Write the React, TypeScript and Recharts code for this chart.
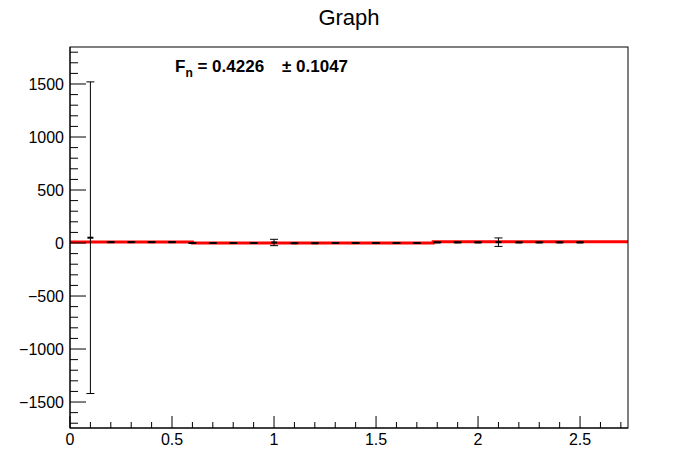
import React from 'react';
import {
  ComposedChart,
  Scatter,
  Line,
  XAxis,
  YAxis,
  ErrorBar,
} from 'recharts';

const xValues = [0.1, 0.2, 0.3, 0.4, 0.5, 0.6, 0.7, 0.8, 0.9, 1.0, 1.1, 1.2, 1.3, 1.4, 1.5, 1.6, 1.7, 1.8, 1.9, 2.0, 2.1, 2.2, 2.3, 2.4, 2.5];
const yValues = [50, 8, 8, 8, 8, 0, 0, 0, 0, 5, -2, -2, 0, 0, 0, 0, 0, 6, 6, 6, 8, 6, 6, 6, 6];
const yErrors = [1470, 3, 3, 3, 3, 3, 3, 3, 3, 30, 3, 3, 3, 3, 3, 3, 3, 3, 3, 3, 40, 3, 3, 3, 3];

const fitX = [0, 0.6, 0.6, 1.78, 1.78, 2.735];
const fitY = [10, 10, 0, 0, 12, 12];

const xMajor = [0, 0.5, 1, 1.5, 2, 2.5];
const yMajor = [-1500, -1000, -500, 0, 500, 1000, 1500];

const points = xValues.map((x, i) => ({ x, y: yValues[i], err: yErrors[i] }));
const fit = fitX.map((x, i) => ({ x, f: fitY[i] }));

const xTicks: number[] = [];
for (let i = 0; i <= 27; i++) xTicks.push(Math.round(i * 10) / 100);
const yTicks: number[] = [];
for (let v = -1700; v <= 1800; v += 100) yTicks.push(v);

const font = '"Liberation Sans", Arial, sans-serif';
const fmt = (v: number) => (v < 0 ? '\u2212' + Math.abs(v) : String(v));

const XTick = (props: any) => {
  const { x, payload } = props;
  const v = payload.value;
  const major = xMajor.some((m) => Math.abs(m - v) < 1e-6);
  return (
    <g>
      <line x1={x} x2={x} y1={428} y2={major ? 416 : 422} stroke="#000" />
      {major && (
        <text x={x} y={445} textAnchor="middle" fontSize={16} fontFamily={font} fill="#000">
          {v}
        </text>
      )}
    </g>
  );
};

const YTick = (props: any) => {
  const { y, payload } = props;
  const v = payload.value;
  const major = yMajor.includes(v);
  return (
    <g>
      <line x1={70} x2={major ? 86 : 78} y1={y} y2={y} stroke="#000" />
      {major && (
        <text x={64} y={y + 6} textAnchor="end" fontSize={16} fontFamily={font} fill="#000">
          {fmt(v)}
        </text>
      )}
    </g>
  );
};

const Marker = (props: any) => {
  const { cx, cy } = props;
  return <rect x={cx - 3} y={cy - 1} width={6} height={2} fill="#000" />;
};

export default function App() {
  return (
    <div style={{ position: 'absolute', left: 0, top: 0, width: 698, height: 476, background: '#fff' }}>
      <ComposedChart
        width={698}
        height={476}
        margin={{ top: 47, right: 70, bottom: 18, left: 0 }}
        style={{ position: 'absolute', left: 0, top: 0 }}
      >
        <XAxis
          xAxisId="b"
          type="number"
          dataKey="x"
          domain={[0, 2.735]}
          ticks={xTicks}
          tick={<XTick />}
          tickLine={false}
          height={30}
          stroke="#000"
          allowDataOverflow
          interval={0}
        />
        <YAxis
          yAxisId="l"
          type="number"
          domain={[-1745, 1849]}
          ticks={yTicks}
          tick={<YTick />}
          tickLine={false}
          width={70}
          stroke="#000"
          allowDataOverflow
          interval={0}
        />
        <Line
          xAxisId="b"
          yAxisId="l"
          data={fit}
          dataKey="f"
          type="linear"
          stroke="#ff0000"
          strokeWidth={3}
          dot={false}
          isAnimationActive={false}
        />
        <Scatter xAxisId="b" yAxisId="l" data={points} dataKey="y" shape={<Marker />} isAnimationActive={false}>
          <ErrorBar dataKey="err" direction="y" width={4} stroke="#000" strokeWidth={1} />
        </Scatter>
      </ComposedChart>
      <svg width={698} height={476} style={{ position: 'absolute', left: 0, top: 0, pointerEvents: 'none' }}>
        <rect x={70} y={47} width={558} height={381} fill="none" stroke="#000" />
        <text x={349} y={25} textAnchor="middle" fontSize={22} fontFamily={font}>Graph</text>
        <text x={175} y={72} fontSize={17} fontWeight="bold" fontFamily={font}>
          F<tspan fontSize={12} dy={5}>n</tspan><tspan dy={-5}>{' = 0.4226'}</tspan>
        </text>
        <text x={282} y={72} fontSize={17} fontWeight="bold" fontFamily={font}>± 0.1047</text>
      </svg>
    </div>
  );
}
